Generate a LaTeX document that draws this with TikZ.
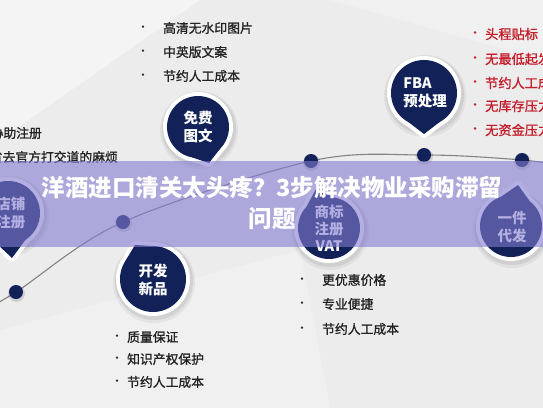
\documentclass[tikz,border=0pt]{standalone}
\usepackage{fontspec}
\newfontfamily\cjk{Noto Sans CJK SC}
\newfontfamily\cjkm{Noto Sans CJK SC}[FakeBold=1.2]
\usetikzlibrary{calc}
\definecolor{navy}{RGB}{18,34,88}
\definecolor{bandc}{RGB}{131,123,208}
\definecolor{listc}{RGB}{34,34,34}
\definecolor{redc}{RGB}{196,30,42}
\definecolor{bgc}{RGB}{236,236,237}
\definecolor{curvec}{RGB}{130,130,135}
\tikzset{
  ring/.style={fill=white, draw=white, line width=8pt, line join=round},
  core/.style={fill=navy},
  btext/.style={text=white, font=\cjk\bfseries\fontsize{14.5}{18}\selectfont, align=center, inner sep=0pt},
  item/.style={anchor=west, inner sep=0pt, text=listc, font=\cjkm\fontsize{12.8}{14}\selectfont},
  reditem/.style={item, text=redc, font=\cjkm\fontsize{13.2}{14}\selectfont},
  bul/.style={inner sep=0pt, font=\cjkm\fontsize{10}{10}\selectfont, text=listc},
  redbul/.style={bul, text=redc, font=\cjkm\fontsize{11}{10}\selectfont},
  dot/.style={circle, fill=navy, minimum size=14pt, inner sep=0pt},
  curve/.style={draw=curvec, line width=1.1pt},
  band/.style={fill=bandc, fill opacity=0.6},
  titletext/.style={text=white, font=\cjk\bfseries\fontsize{23.5}{31}\selectfont, align=center, inner sep=0pt},
}
% name, center, radius, tip
\newcommand\mybubble[4]{%
  \coordinate (#1c) at #2;
  \coordinate (#1t) at #4;
  \fill[black, opacity=0.05] ($(#1c)+(1,3)$) circle[radius=#3pt+8pt];
  \fill[black, opacity=0.07] ($(#1c)+(1,2)$) circle[radius=#3pt+6pt];
  \path[ring] ($(#1c)!#3pt!28:(#1t)$) -- (#1t) -- ($(#1c)!#3pt!-28:(#1t)$) -- cycle;
  \path[ring] (#1c) circle[radius=#3pt];
  \path[core] ($(#1c)!#3pt!28:(#1t)$) -- (#1t) -- ($(#1c)!#3pt!-28:(#1t)$) -- cycle;
  \path[core] (#1c) circle[radius=#3pt];
}
\newcommand\litem[6]{% name, bullet x, text x, y, text, style
  \node[#6bul] (#1b) at (#2,#4) {•};
  \node[#6item] (#1) at (#3,#4) {#5};
}
\begin{document}
\begin{tikzpicture}[x=1pt,y=-1pt]
\useasboundingbox (0,0) rectangle (543,408);
\clip (0,0) rectangle (543,408);
% background
\fill[bgc] (0,0) rectangle (543,408);
\fill[white, opacity=0.45] (0,0) -- (200,0) -- (0,140) -- cycle;
\fill[white, opacity=0.25] (0,408) -- (0,330) -- (300,250) -- (330,408) -- cycle;
\fill[white, opacity=0.25] (330,0) -- (543,0) -- (543,60) -- cycle;
% curve coordinates
\coordinate (p1) at (16,292);
\coordinate (p2) at (123,222);
\coordinate (p3) at (311,161);
\coordinate (p4) at (424,155);
\coordinate (p5) at (522,160);
\coordinate (pa) at (-30,318);
\coordinate (pb) at (570,167);
\draw[curve] plot[smooth, tension=0.55] coordinates {(pa) (p1) (p2) (p3) (p4) (p5) (pb)};
\foreach \i in {1,...,5} {
  \fill[black, opacity=0.12] ($(p\i)+(0.5,1.5)$) circle[radius=8.5pt];
  \node[dot] (d\i) at (p\i) {};
}
% bubbles
\mybubble{mf}{(198,127)}{31}{(209,163)}
\mybubble{fba}{(424,93)}{33}{(424,134)}
\mybubble{dp}{(8,213)}{32}{(12,258)}
\mybubble{kf}{(153,279)}{33}{(135,245)}
\mybubble{sb}{(329,228)}{31}{(316,189)}
\mybubble{yj}{(511,226)}{31}{(518,185)}
\node[btext] (mf) at (mfc) {免费\\图文};
\node[btext, align=left] (fba) at ($(fbac)+(1,0)$) {FBA\\预处理};
\node[btext] (dp) at ($(dpc)+(3,0)$) {店铺\\注册};
\node[btext] (kf) at ($(kfc)+(0,1)$) {开发\\新品};
\node[btext, font=\cjk\bfseries\fontsize{14.5}{17}\selectfont] (sb) at ($(sbc)+(0,0)$) {商标\\注册\\VAT};
\node[btext] (yj) at ($(yjc)+(1,1)$) {一件\\代发};
% lists
\litem{a1}{143}{163}{28}{高清无水印图片}{}
\litem{a2}{143}{163}{52}{中英版文案}{}
\litem{a3}{143}{163}{76}{节约人工成本}{}
\litem{r1}{475}{485}{34}{头程贴标}{red}
\litem{r2}{475}{485}{59}{无最低起发量}{red}
\litem{r3}{475}{485}{83}{节约人工成本}{red}
\litem{r4}{475}{485}{106}{无库存压力}{red}
\litem{r5}{475}{485}{130}{无资金压力}{red}
\node[item, anchor=east] (l1) at (42,133) {协助注册};
\node[item, anchor=east] (l2) at (118,157) {省去官方打交道的麻烦};
\litem{k1}{117}{127}{337}{质量保证}{}
\litem{k2}{117}{127}{359}{知识产权保护}{}
\litem{k3}{117}{127}{382}{节约人工成本}{}
\litem{v1}{302}{322}{280}{更优惠价格}{}
\litem{v2}{302}{322}{304}{专业便捷}{}
\litem{v3}{302}{322}{329}{节约人工成本}{}
% band and title
\fill[band] (0,161) rectangle (543,247);
\node[titletext] (title) at (272,203) {洋酒进口清关太头疼？3步解决物业采购滞留\\问题};
\end{tikzpicture}
\end{document}
